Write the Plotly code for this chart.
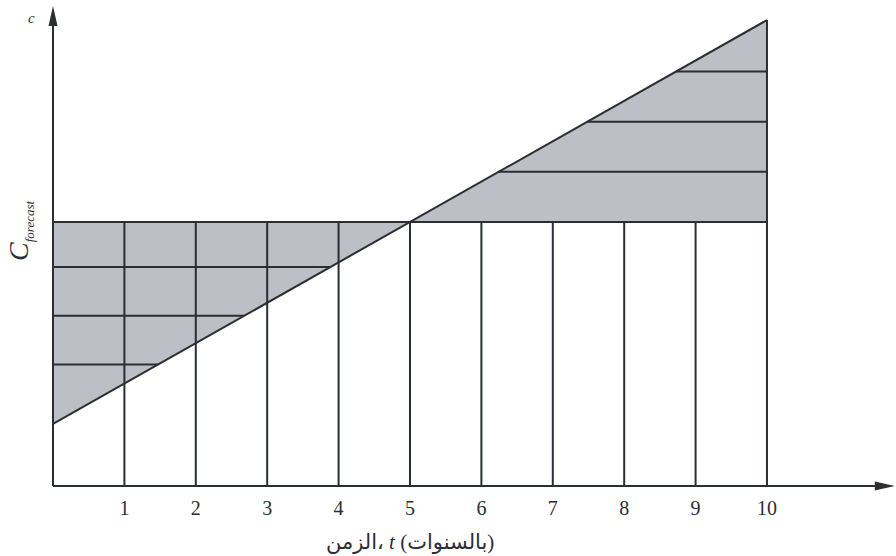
import plotly.graph_objects as go

# ---- data ----
years = [1, 2, 3, 4, 5, 6, 7, 8, 9, 10]
tick_labels = ["1", "2", "3", "4", "5", "6", "7", "8", "9", "10"]
c_forecast = 10.0          # constant forecast cost level
cost_start = 2.35          # cost line at t = 0
cost_end = 17.65           # cost line at t = 10
left_levels = [4.6, 6.45, 8.3]     # hatch lines in left shaded triangle
right_levels = [11.9, 13.8, 15.7]  # hatch lines in right shaded triangle
t_end = 10

# ---- style / layout constants ----
INK = "#2b2e33"
FILL = "#bcbfc5"
LW = 2
X_TIP = 11.79
Y_TIP = 18.18
X_RANGE = [-0.112, 11.793]
Y_RANGE = [-0.303, 18.41]

slope = (cost_end - cost_start) / t_end
def t_at(c):
    return (c - cost_start) / slope

t_cross = t_at(c_forecast)

fig = go.Figure()

# shaded regions
fig.add_trace(go.Scatter(x=[0, 0, t_cross, 0], y=[cost_start, c_forecast, c_forecast, cost_start],
                         fill="toself", fillcolor=FILL, line=dict(width=0), mode="lines",
                         hoverinfo="skip", showlegend=False))
fig.add_trace(go.Scatter(x=[t_cross, t_end, t_end, t_cross], y=[c_forecast, c_forecast, cost_end, c_forecast],
                         fill="toself", fillcolor=FILL, line=dict(width=0), mode="lines",
                         hoverinfo="skip", showlegend=False))

line_style = dict(color=INK, width=LW)

def seg(x0, y0, x1, y1):
    fig.add_trace(go.Scatter(x=[x0, x1], y=[y0, y1], mode="lines", line=line_style,
                             hoverinfo="skip", showlegend=False))

# vertical year lines
for yr in years:
    top = cost_end if yr == t_end else c_forecast
    seg(yr, 0, yr, top)

# hatch lines
for lv in left_levels:
    seg(0, lv, t_at(lv), lv)
for lv in right_levels:
    seg(t_at(lv), lv, t_end, lv)

# forecast level and cost line
seg(0, c_forecast, t_end, c_forecast)
seg(0, cost_start, t_end, cost_end)

# axes with arrows
seg(0, 0, X_TIP - 0.1, 0)
seg(0, 0, 0, Y_TIP - 0.3)
fig.add_shape(type="path", xref="x", yref="y", xsizemode="pixel", ysizemode="pixel",
              xanchor=0, yanchor=Y_TIP, path="M0,0 L-4.5,-20 L4.5,-20 Z",
              fillcolor=INK, line=dict(width=0))
fig.add_shape(type="path", xref="x", yref="y", xsizemode="pixel", ysizemode="pixel",
              xanchor=X_TIP, yanchor=0, path="M0,0 L-20,4.5 L-20,-4.5 Z",
              fillcolor=INK, line=dict(width=0))

SERIF = "Liberation Serif, DejaVu Serif, serif"

fig.add_annotation(text="<i>c</i>", xref="x", x=0, xshift=-22, xanchor="center",
                   yref="y", y=Y_TIP, yshift=-12, yanchor="middle", showarrow=False,
                   font=dict(family=SERIF, size=15, color=INK))
fig.add_annotation(text="<i>C</i><sub><i><span style=\"font-size:13px\">forecast</span></i></sub>",
                   xref="x", x=0, xshift=-33, xanchor="center",
                   yref="y", y=9.66, yanchor="middle", textangle=-90, showarrow=False,
                   font=dict(family=SERIF, size=28, color=INK))
fig.add_annotation(text="\u200eالزمن، <i>t</i> (بالسنوات)\u200e", xref="x", x=5, xanchor="center",
                   yref="y", y=0, yshift=-56, yanchor="middle", showarrow=False,
                   font=dict(family="Liberation Serif, DejaVu Sans, serif", size=21, color=INK))

fig.update_layout(
    width=896, height=556,
    margin=dict(l=45, r=1, t=0, b=62),
    plot_bgcolor="white", paper_bgcolor="white",
    xaxis=dict(range=X_RANGE, showgrid=False, zeroline=False, showline=False,
               tickmode="array", tickvals=years, ticktext=tick_labels, ticks="",
               ticklabelstandoff=0,
               tickfont=dict(family=SERIF, size=20, color=INK), fixedrange=True),
    yaxis=dict(range=Y_RANGE, showgrid=False, zeroline=False, showline=False,
               showticklabels=False, ticks="", fixedrange=True),
)

fig.write_html("out.html", config={"displayModeBar": False},
               post_script="document.body.style.margin='0';")
